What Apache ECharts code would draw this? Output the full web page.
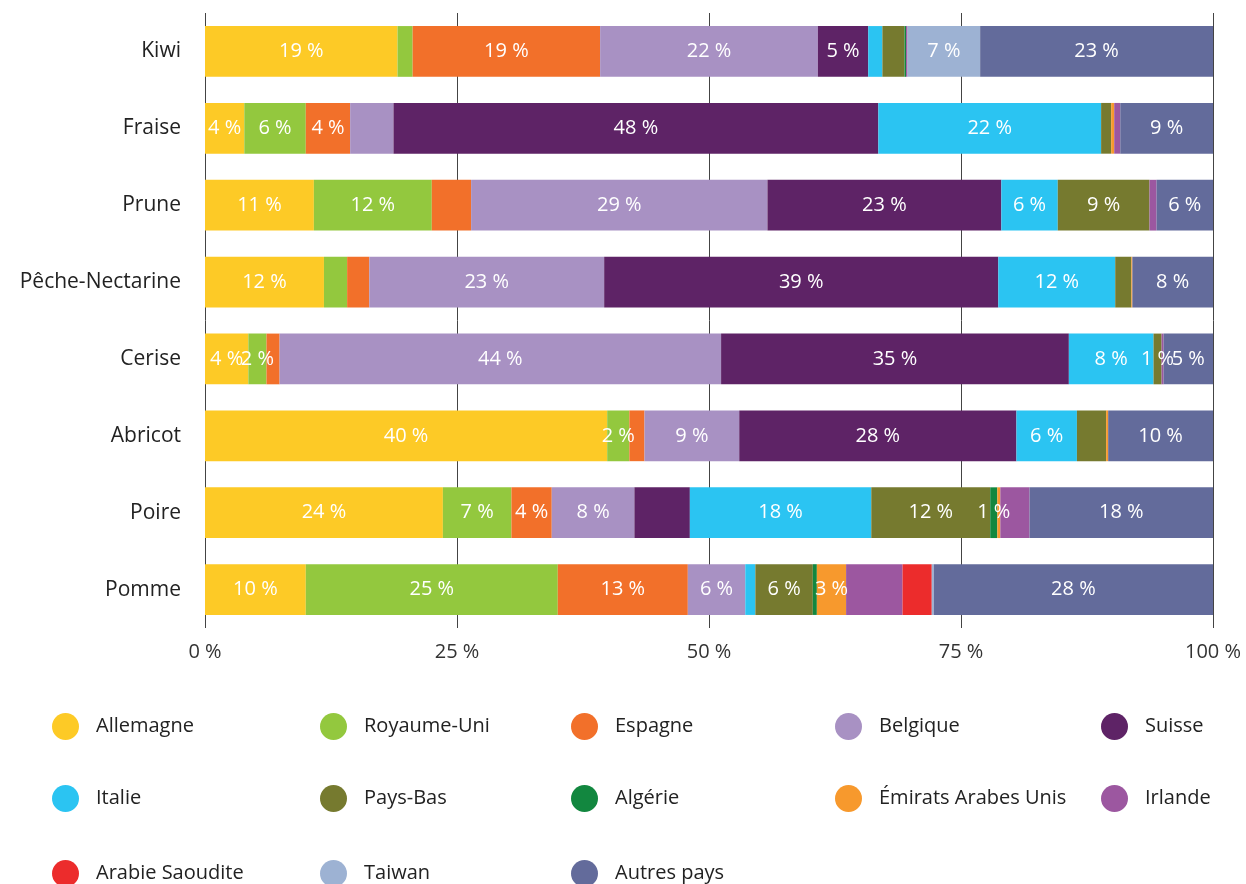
<!DOCTYPE html>
<html>
<head>
<meta charset="utf-8">
<script src="https://cdn.jsdelivr.net/npm/echarts@6/dist/echarts.min.js"></script>
<style>
  html, body { margin: 0; padding: 0; background: #fff; }
  #chart { width: 1246px; height: 884px; }
</style>
</head>
<body>
<div id="chart"></div>
<script>
// catégories (de haut en bas)
const categories = ['Kiwi', 'Fraise', 'Prune', 'Pêche-Nectarine', 'Cerise', 'Abricot', 'Poire', 'Pomme'];
const xTicks = [0, 25, 50, 75, 100];

// parts en % par pays de destination
const allemagne  = [19.1, 3.9, 10.8, 11.8, 4.3, 39.9, 23.6, 10.0];
const royaumeUni = [1.5, 6.1, 11.7, 2.3, 1.8, 2.2, 6.8, 25.0];
const espagne    = [18.6, 4.4, 3.9, 2.2, 1.3, 1.5, 4.0, 12.9];
const belgique   = [21.6, 4.3, 29.4, 23.3, 43.8, 9.4, 8.2, 5.7];
const suisse     = [5.0, 48.1, 23.2, 39.1, 34.5, 27.5, 5.5, 0];
const italie     = [1.4, 22.1, 5.6, 11.6, 8.4, 6.0, 18.0, 1.0];
const paysBas    = [2.2, 1.0, 9.1, 1.6, 0.8, 2.9, 11.8, 5.7];
const algerie    = [0.15, 0, 0, 0, 0, 0, 0.7, 0.4];
const emirats    = [0, 0.3, 0, 0.1, 0, 0.2, 0.3, 2.9];
const irlande    = [0.15, 0.6, 0.7, 0, 0.2, 0, 2.9, 5.6];
const arabie     = [0, 0, 0, 0, 0, 0, 0, 2.9];
const taiwan     = [7.2, 0, 0, 0, 0, 0, 0, 0.2];
const autres     = [23.1, 9.2, 5.6, 8.0, 4.9, 10.4, 18.2, 27.7];

// segments dont la valeur est écrite sur la barre
const labelled = {
  'Allemagne': [0, 1, 2, 3, 4, 5, 6, 7],
  'Royaume-Uni': [1, 2, 4, 5, 6, 7],
  'Espagne': [0, 1, 6, 7],
  'Belgique': [0, 2, 3, 4, 5, 6, 7],
  'Suisse': [0, 1, 2, 3, 4, 5],
  'Italie': [1, 2, 3, 4, 5, 6],
  'Pays-Bas': [2, 4, 6, 7],
  'Algérie': [6],
  'Émirats Arabes Unis': [7],
  'Irlande': [],
  'Arabie Saoudite': [],
  'Taiwan': [0],
  'Autres pays': [0, 1, 2, 3, 4, 5, 6, 7]
};

const countries = [
  ['Allemagne', allemagne, '#FDCA26'],
  ['Royaume-Uni', royaumeUni, '#93C83E'],
  ['Espagne', espagne, '#F2702A'],
  ['Belgique', belgique, '#A891C3'],
  ['Suisse', suisse, '#5E2366'],
  ['Italie', italie, '#2BC4F2'],
  ['Pays-Bas', paysBas, '#767A2F'],
  ['Algérie', algerie, '#12873F'],
  ['Émirats Arabes Unis', emirats, '#F7992D'],
  ['Irlande', irlande, '#9C57A0'],
  ['Arabie Saoudite', arabie, '#EC2C2C'],
  ['Taiwan', taiwan, '#9DB2D3'],
  ['Autres pays', autres, '#636B9B']
];

const font = '"Open Sans", Lato, sans-serif';

const series = countries.map(function (c) {
  const name = c[0];
  return {
    name: name,
    type: 'bar',
    stack: 'total',
    barCategoryGap: '34%',
    itemStyle: { color: c[2] },
    label: {
      show: false,
      position: 'inside',
      color: '#fff',
      fontFamily: font,
      fontSize: 20,
      formatter: function (p) { return Math.round(p.value) + ' %'; }
    },
    data: c[1].map(function (v, i) {
      return labelled[name].indexOf(i) >= 0 ? { value: v, label: { show: true } } : v;
    })
  };
});

// légende : 5 colonnes, 3 lignes
const legendRows = [
  ['Allemagne', 'Royaume-Uni', 'Espagne', 'Belgique', 'Suisse'],
  ['Italie', 'Pays-Bas', 'Algérie', 'Émirats Arabes Unis', 'Irlande'],
  ['Arabie Saoudite', 'Taiwan', 'Autres pays']
];
const legendColX = [47, 315, 566, 830, 1096];
const legendRowY = [708, 780, 855];
const legends = [];
legendRows.forEach(function (row, r) {
  row.forEach(function (name, k) {
    legends.push({
      left: legendColX[k],
      top: legendRowY[r],
      icon: 'circle',
      itemWidth: 27,
      itemHeight: 27,
      selectedMode: false,
      data: [name],
      textStyle: { fontFamily: font, fontSize: 20, color: '#222', padding: [0, 0, 2, 12] }
    });
  });
});

const chart = echarts.init(document.getElementById('chart'));
chart.setOption({
  animation: false,
  legend: legends,
  grid: { left: 205, right: 33, top: 13, bottom: 256 },
  xAxis: {
    type: 'value',
    min: xTicks[0],
    max: xTicks[xTicks.length - 1],
    interval: 25,
    axisLine: { show: false },
    axisTick: { show: false },
    splitLine: { show: true, lineStyle: { color: '#444', width: 1 } },
    axisLabel: {
      margin: 14,
      fontFamily: font,
      fontSize: 20,
      color: '#333',
      formatter: '{value} %'
    }
  },
  yAxis: {
    type: 'category',
    inverse: true,
    data: categories,
    axisLine: { show: false },
    axisTick: { show: false },
    axisLabel: { margin: 24, fontFamily: font, fontSize: 21, color: '#222' }
  },
  series: series
});
</script>
</body>
</html>
